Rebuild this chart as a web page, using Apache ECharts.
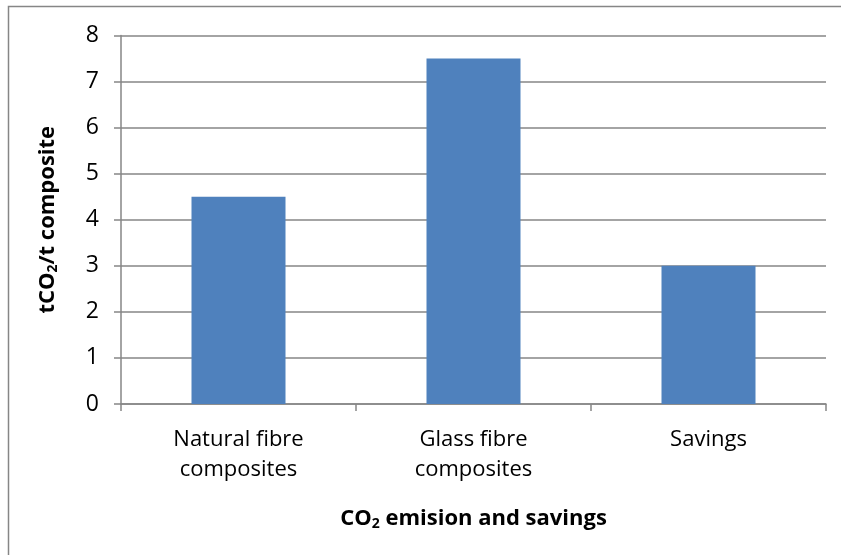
<!DOCTYPE html>
<html>
<head>
<meta charset="utf-8">
<script src="https://cdn.jsdelivr.net/npm/echarts@6/dist/echarts.min.js"></script>
<style>
  html, body { margin: 0; padding: 0; background: #fff; }
  #chart { width: 841px; height: 555px; }
</style>
</head>
<body>
<div id="chart"></div>
<script>
// Categories and values (tCO2 per tonne of composite)
const categories = ['Natural fibre\ncomposites', 'Glass fibre\ncomposites', 'Savings'];
const emissions = [4.5, 7.5, 3.0];
const yTicks = [0, 1, 2, 3, 4, 5, 6, 7, 8];

const FONT = '"Open Sans", "Liberation Sans", sans-serif';
const GRID_COLOR = '#868686';

const chart = echarts.init(document.getElementById('chart'), null, { renderer: 'canvas' });

// Bold axis titles with a subscript "2"
const titleRich = {
  a: { fontSize: 22, fontWeight: 'bold', color: '#000', fontFamily: FONT },
  s: { fontSize: 14, fontWeight: 'bold', color: '#000', fontFamily: FONT, padding: [11, 0, 0, 0] }
};

chart.setOption({
  animation: false,
  backgroundColor: '#ffffff',
  textStyle: { fontFamily: FONT },
  graphic: [{
    type: 'rect',
    shape: { x: 8.5, y: 6.5, width: 900, height: 700 },
    style: { fill: 'none', stroke: GRID_COLOR, lineWidth: 1.5 },
    silent: true
  }],
  grid: { left: 121, right: 15, top: 35.5, bottom: 151, containLabel: false },
  xAxis: {
    type: 'category',
    data: categories,
    axisLine: { lineStyle: { color: GRID_COLOR, width: 1.5 } },
    axisTick: { show: true, length: 7, alignWithLabel: false, lineStyle: { color: GRID_COLOR, width: 1.5 } },
    axisLabel: {
      color: '#000', fontSize: 22, fontFamily: FONT, lineHeight: 30, margin: 21, interval: 0
    },
    name: '{a|CO}{s|2}{a| emision and savings}',
    nameLocation: 'middle',
    nameGap: 102,
    nameTextStyle: { rich: titleRich }
  },
  yAxis: {
    type: 'value',
    min: 0, max: 8, interval: 1,
    axisLine: { show: true, lineStyle: { color: GRID_COLOR, width: 1.5 } },
    axisTick: { show: true, length: 7, inside: false, lineStyle: { color: GRID_COLOR, width: 1.5 } },
    splitLine: { show: true, lineStyle: { color: GRID_COLOR, width: 1.5 } },
    axisLabel: {
      color: '#000', fontSize: 23, fontFamily: FONT, margin: 22,
      formatter: v => (yTicks.indexOf(v) >= 0 ? String(v) : '')
    },
    name: '{a|tCO}{s|2}{a|/t composite}',
    nameLocation: 'middle',
    nameGap: 61,
    nameRotate: 90,
    nameTextStyle: { rich: titleRich }
  },
  series: [{
    type: 'bar',
    data: emissions,
    barWidth: '40%',
    itemStyle: { color: '#4F81BD' }
  }]
});
</script>
</body>
</html>
